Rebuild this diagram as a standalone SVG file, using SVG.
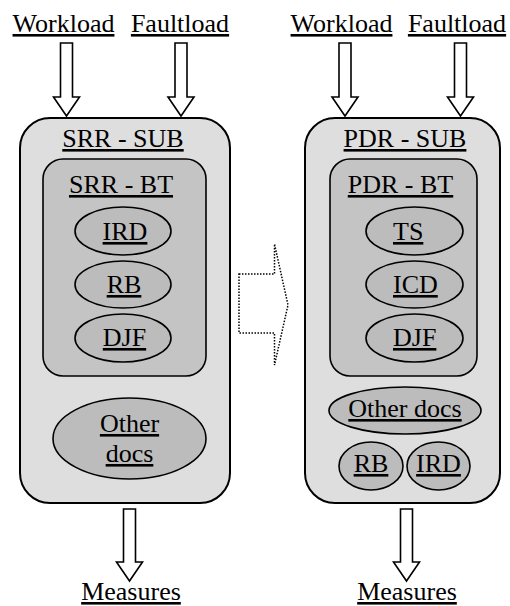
<svg xmlns="http://www.w3.org/2000/svg" width="510" height="606" viewBox="0 0 510 606">
<style>
text{font-size:26px;fill:#000;text-decoration:underline;text-anchor:middle}
.outer{fill:#dedede;stroke:#000;stroke-width:2}
.inner{fill:#c4c4c4;stroke:#000;stroke-width:1.6}
.doc{fill:#bcbcbc;stroke:#000;stroke-width:1.6}
.arr{fill:#fff;stroke:#000;stroke-width:1.6;stroke-linejoin:miter}
.dot{fill:#fff;stroke:#000;stroke-width:1.5;stroke-dasharray:1.5 1.5}
</style>
<rect width="510" height="606" fill="#fff"/>
<g font-family="Liberation Serif, Times New Roman, Times, serif">
<g id="labels-in">
<text x="63.5" y="32">Workload</text>
<text x="180" y="32">Faultload</text>
<text x="341.5" y="32">Workload</text>
<text x="457" y="32">Faultload</text>
</g>
<g id="connectors">
<polygon class="arr" points="60.5,43 72.5,43 72.5,97 79.5,97 66.5,116 53.5,97 60.5,97"/>
<polygon class="arr" points="175,43 187,43 187,97 194,97 181,116 168,97 175,97"/>
<polygon class="arr" points="339,43 351,43 351,97 358,97 345,116 332,97 339,97"/>
<polygon class="arr" points="454.5,43 466.5,43 466.5,97 473.5,97 460.5,116 447.5,97 454.5,97"/>
<polygon class="arr" points="123.5,509 135.5,509 135.5,562 142.5,562 129.5,581 116.5,562 123.5,562"/>
<polygon class="arr" points="400.5,509 412.5,509 412.5,562 419.5,562 406.5,581 393.5,562 400.5,562"/>
<polygon class="dot" points="239,274 274.5,274 274.5,244 288,305 274.5,365 274.5,333 239,333"/>
</g>
<g id="srr-sub">
<rect class="outer" x="20" y="118" width="210" height="385" rx="30"/>
<text x="123" y="147">SRR - SUB</text>
</g>
<g id="srr-bt">
<rect class="inner" x="43" y="159" width="163" height="217" rx="20"/>
<text x="121" y="193">SRR - BT</text>
</g>
<g id="srr-ird"><ellipse class="doc" cx="123" cy="231" rx="48" ry="24"/><text x="125" y="240">IRD</text></g>
<g id="srr-rb"><ellipse class="doc" cx="123" cy="284.5" rx="48" ry="23.5"/><text x="124" y="293">RB</text></g>
<g id="srr-djf"><ellipse class="doc" cx="123" cy="338" rx="48" ry="24"/><text x="124.5" y="346">DJF</text></g>
<g id="srr-other"><ellipse class="doc" cx="129.5" cy="438.5" rx="76.5" ry="40.5"/><text x="129.5" y="432">Other</text><text x="129.5" y="462">docs</text></g>
<g id="pdr-sub">
<rect class="outer" x="305" y="118" width="195" height="385" rx="30"/>
<text x="405" y="147">PDR - SUB</text>
</g>
<g id="pdr-bt">
<rect class="inner" x="330" y="159" width="147" height="217" rx="20"/>
<text x="400.5" y="193">PDR - BT</text>
</g>
<g id="pdr-ts"><ellipse class="doc" cx="414.5" cy="231" rx="48.5" ry="24"/><text x="393" y="240" text-anchor="start" style="text-anchor:start">TS</text></g>
<g id="pdr-icd"><ellipse class="doc" cx="414.5" cy="284.5" rx="48.5" ry="23.5"/><text x="393" y="293" style="text-anchor:start">ICD</text></g>
<g id="pdr-djf"><ellipse class="doc" cx="414.5" cy="338" rx="48.5" ry="24"/><text x="393" y="346" style="text-anchor:start">DJF</text></g>
<g id="pdr-other"><ellipse class="doc" cx="405" cy="410.5" rx="76" ry="23.5"/><text x="405" y="417">Other docs</text></g>
<g id="pdr-rb"><ellipse class="doc" cx="371" cy="466" rx="32" ry="24"/><text x="371" y="472">RB</text></g>
<g id="pdr-ird"><ellipse class="doc" cx="438.5" cy="466" rx="31.5" ry="24"/><text x="438.5" y="472">IRD</text></g>
<g id="labels-out">
<text x="131" y="600">Measures</text>
<text x="407" y="600">Measures</text>
</g>
</g>
</svg>
